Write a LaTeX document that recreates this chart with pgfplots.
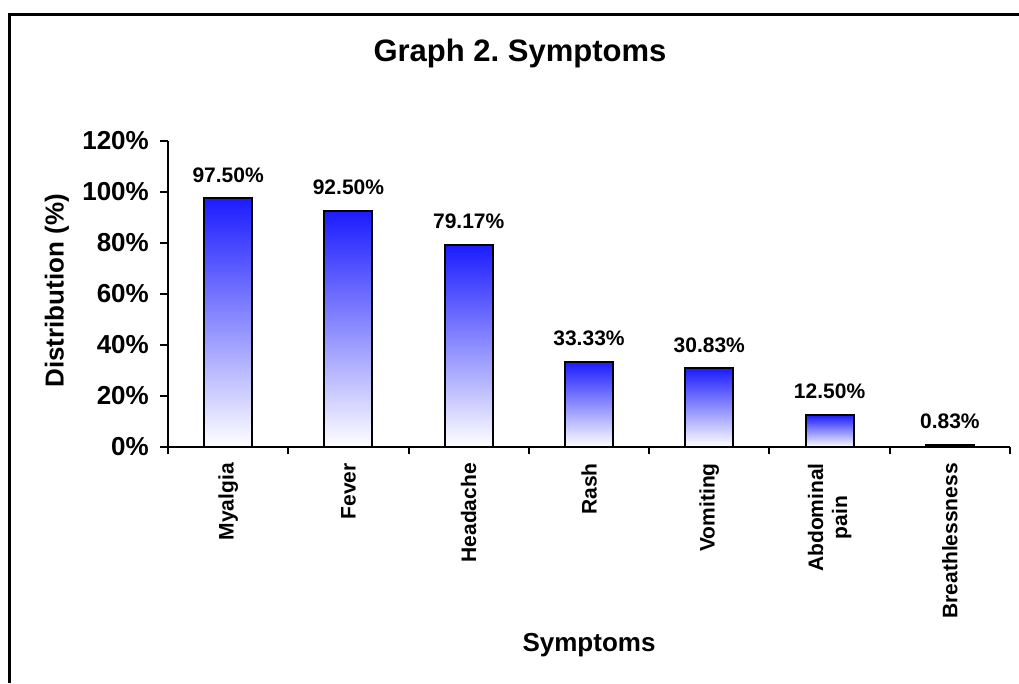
\documentclass[border=0pt]{standalone}
\usepackage{fontspec}
\setmainfont{Liberation Sans}
\usepackage{pgfplots}
\pgfplotsset{compat=1.18}
\frenchspacing
\definecolor{barblue}{RGB}{28,28,255}
\pgfplotsset{symbar/.style={draw=black, line width=2pt, top color=barblue, bottom color=white,
  bar shift=0pt,
  point meta=explicit symbolic,
  nodes near coords,
  nodes near coords style={anchor=south, inner sep=0pt, yshift=15pt, text=black,
     font=\fontsize{21}{24}\selectfont\bfseries}}}
\begin{document}
\begin{tikzpicture}[x=1pt,y=1pt]
\useasboundingbox (0,0) rectangle (1019,683);
\fill[white] (0,0) rectangle (1019,683);
\draw[line width=3pt] (9.5,0) -- (9.5,668.5) -- (1019,668.5);
\begin{axis}[
  at={(168pt,236pt)}, anchor=south west,
  width=842pt, height=306pt, scale only axis,
  xmin=-0.5, xmax=6.5, ymin=0, ymax=120,
  axis x line=bottom, axis y line=left,
  axis line style={-, line width=2pt},
  ybar, bar width=48pt,
  xtick={0,...,6},
  xticklabels={Myalgia,Fever,Headache,Rash,Vomiting,{Abdominal\\pain},Breathlessness},
  major x tick style={draw=none},
  minor xtick={-0.5,0.5,1.5,2.5,3.5,4.5,5.5,6.5},
  minor tick length=7pt,
  minor x tick style={line width=2pt, black},
  ytick={0,20,40,60,80,100,120},
  yticklabels={0\%,20\%,40\%,60\%,80\%,100\%,120\%},
  major tick length=8pt,
  major y tick style={line width=2pt, black},
  tick align=outside,
  xticklabel style={rotate=90, anchor=east, align=center, inner sep=0pt, xshift=-8pt,
     font=\fontsize{21}{24}\selectfont\bfseries},
  yticklabel style={anchor=east, inner sep=0pt, xshift=-11pt,
     font=\fontsize{26}{30}\selectfont\bfseries},
  title={Graph 2. Symptoms},
  title style={at={(axis description cs:0.418,1.265)}, anchor=center,
     font=\fontsize{31}{36}\selectfont\bfseries},
  xlabel={Symptoms},
  xlabel style={at={(axis description cs:0.5,-0.667)}, anchor=base,
     font=\fontsize{26}{30}\selectfont\bfseries},
  ylabel={Distribution (\%)},
  ylabel style={at={(axis description cs:-0.132,0.51)}, anchor=center, rotate=0,
     font=\fontsize{26}{30}\selectfont\bfseries},
  clip=false,
]
\addplot[symbar] coordinates {(0,97.50) [97.50\%]};
\addplot[symbar] coordinates {(1,92.50) [92.50\%]};
\addplot[symbar] coordinates {(2,79.17) [79.17\%]};
\addplot[symbar] coordinates {(3,33.33) [33.33\%]};
\addplot[symbar] coordinates {(4,30.83) [30.83\%]};
\addplot[symbar] coordinates {(5,12.50) [12.50\%]};
\addplot[symbar] coordinates {(6,0.83)  [0.83\%]};
\end{axis}
\end{tikzpicture}
\end{document}
